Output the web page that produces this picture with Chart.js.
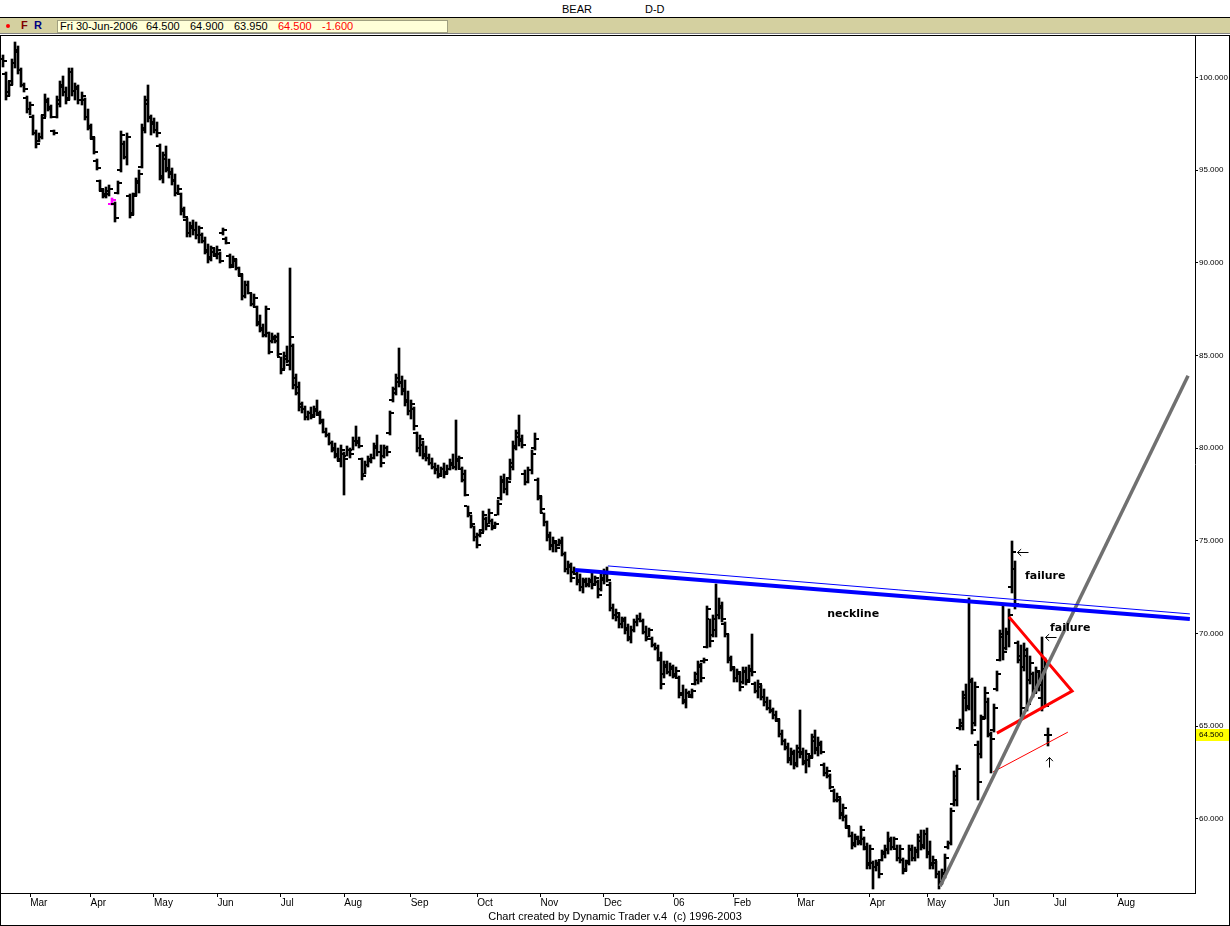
<!DOCTYPE html>
<html>
<head>
<meta charset="utf-8">
<script src="https://cdn.jsdelivr.net/npm/chart.js@4.4.1/dist/chart.umd.min.js"></script>
<style>
html, body { margin: 0; padding: 0; background: #fff; }
#page { position: relative; width: 1230px; height: 926px; overflow: hidden; font-family: "Liberation Sans", Arial, sans-serif; color: #000; }
#title { position: absolute; left: 0; top: 0; width: 1230px; height: 17px; border-bottom: 1px solid #000; font-size: 11px; }
#title span { position: absolute; top: 3px; }
#status { position: absolute; left: 0; top: 18px; width: 1230px; height: 15px; background: #d4d0a0; border-bottom: 1px solid #808080; }
#status .dot { position: absolute; left: 6px; top: 6px; width: 4px; height: 4px; border-radius: 2px; background: #ff0000; }
#status .f { position: absolute; left: 21px; top: 1px; font: bold 11px "Liberation Sans", Arial, sans-serif; color: #800000; }
#status .r { position: absolute; left: 34px; top: 1px; font: bold 11px "Liberation Sans", Arial, sans-serif; color: #000080; }
#quote { position: absolute; left: 57px; top: 2px; width: 389px; height: 11px; background: #ffffd8; border: 1px solid #a0a080; font-size: 11px; }
#quote span { position: absolute; top: -1px; }
#quote .red { color: #ff0000; }
#wrap { position: absolute; left: 0; top: 35px; width: 1230px; height: 891px; }
#footer { position: absolute; left: 0; top: 910px; width: 1230px; text-align: center; font-size: 11px; }
#frame { position: absolute; left: 0; top: 35px; width: 1228px; height: 889px; border: 1px solid #000; pointer-events: none; }
</style>
</head>
<body>
<div id="page">
  <div id="title"><span style="left:562px">BEAR</span><span style="left:645px">D-D</span></div>
  <div id="status">
    <div class="dot"></div><div class="f">F</div><div class="r">R</div>
    <div id="quote">
      <span style="left:2px">Fri 30-Jun-2006</span>
      <span style="left:88px">64.500</span>
      <span style="left:132px">64.900</span>
      <span style="left:176px">63.950</span>
      <span class="red" style="left:220px">64.500</span>
      <span class="red" style="left:264px">-1.600</span>
    </div>
  </div>
  <div id="wrap"><canvas id="c" width="1230" height="891"></canvas></div>
  <div id="footer">Chart created by Dynamic Trader v.4&nbsp; (c) 1996-2003</div>
  <div id="frame"></div>
</div>
<script>
// daily bars, BEAR, Feb 2005 - 30 Jun 2006 (index = trading day)
const opens = [
101.0,100.2,99.2,99.8,100.8,101.4,100.4,99.6,98.9,98.3,
97.9,97.0,96.6,96.8,98.0,98.7,98.3,97.1,97.9,98.6,
99.5,99.2,98.9,100.3,99.3,99.4,98.8,98.8,97.9,97.3,
96.7,95.5,94.4,93.9,93.7,93.7,93.2,93.2,93.8,95.0,
96.4,95.7,93.6,92.7,93.7,94.3,95.2,97.2,98.6,97.9,
97.5,97.2,96.3,94.6,95.6,95.1,94.9,94.5,93.8,93.7,
92.9,92.3,91.6,91.9,91.8,91.5,91.5,91.2,90.7,90.3,
90.6,90.4,90.5,91.6,91.3,90.4,89.9,90.1,89.7,89.3,
88.2,88.8,88.4,87.8,87.6,86.8,86.5,86.1,86.2,85.8,
85.9,86.0,84.9,84.3,84.8,84.5,85.5,83.8,83.3,82.4,
82.1,81.7,81.9,81.8,82.0,81.8,81.5,80.9,80.7,80.3,
80.0,79.7,79.3,79.7,79.6,79.9,79.9,80.4,80.4,79.4,
78.6,79.1,79.3,79.5,80.0,79.8,79.6,80.0,80.8,82.6,
83.0,83.6,83.6,83.2,82.6,82.0,82.1,80.8,80.0,80.2,
79.7,79.5,79.2,79.0,78.9,78.6,78.9,78.7,78.9,79.1,
79.0,79.4,78.9,78.6,76.9,76.4,75.8,75.2,75.3,75.6,
76.2,75.9,76.1,75.8,76.4,77.3,78.2,77.8,78.4,79.0,
80.0,80.6,80.5,78.6,78.2,78.8,80.0,78.3,77.3,76.5,
76.0,75.3,74.8,74.9,74.8,75.0,74.3,73.5,73.6,73.3,
73.2,72.9,72.5,72.8,72.7,72.8,72.7,72.8,72.4,72.9,
73.2,72.6,71.4,71.0,70.9,70.5,70.7,70.3,69.7,70.2,
70.6,70.8,70.7,70.1,69.8,69.7,69.4,69.2,68.7,67.8,
68.2,67.9,68.1,67.8,67.6,66.8,66.3,66.8,66.6,67.3,
67.5,68.2,68.5,69.3,70.8,69.9,70.2,71.0,71.4,70.5,
70.0,68.7,68.1,67.6,67.8,67.4,67.9,67.5,68.0,67.3,
66.9,67.1,66.6,66.3,66.0,65.9,65.6,65.3,64.6,64.2,
63.9,63.3,63.5,63.0,63.6,63.6,63.1,63.2,63.4,64.2,
63.8,64.0,62.9,62.5,62.3,61.5,61.0,61.0,60.3,60.1,
59.5,59.1,58.7,58.9,58.7,58.9,58.5,57.6,57.6,57.4,
57.5,57.8,58.1,58.3,58.8,58.5,58.4,57.9,57.8,57.3,
57.6,58.3,57.9,58.2,58.8,58.6,59.2,58.2,57.6,57.6,
57.0,56.6,57.0,58.5,58.7,60.8,61.0,64.9,65.0,66.5,
66.1,67.4,65.2,64.0,63.5,65.5,66.3,64.5,64.8,67.0,
68.6,69.8,69.2,70.0,72.5,73.5,69.5,68.8,68.2,68.8,
67.5,67.8,67.0,67.9,66.5,68.0,64.5];

const highs = [
101.2,100.3,99.8,101.0,101.9,101.7,100.5,99.7,99.0,98.7,
98.0,97.2,97.0,98.0,99.1,98.9,98.5,97.2,99.0,99.8,
100.1,99.5,100.5,100.5,99.7,99.6,99.2,98.9,98.3,97.5,
96.8,95.6,94.5,94.0,94.1,94.2,93.5,93.3,94.4,97.1,
96.6,97.0,93.7,93.8,94.6,95.0,97.5,99.0,99.6,98.0,
97.8,97.6,96.4,96.0,96.3,95.6,95.1,94.8,94.2,93.8,
93.0,92.4,92.2,92.3,92.2,92.0,91.6,91.4,91.0,90.9,
90.8,90.9,90.6,91.9,91.4,90.5,90.4,90.2,89.8,89.4,
89.0,89.0,88.4,88.3,87.7,87.2,86.7,87.7,86.3,86.2,
86.1,86.2,84.9,85.2,85.5,89.7,85.6,84.0,83.6,82.5,
82.3,82.0,82.2,82.3,82.6,82.0,81.6,81.1,80.8,80.4,
80.3,80.0,80.2,79.8,80.1,80.0,80.6,81.2,80.6,79.5,
79.3,79.6,79.7,80.3,80.7,80.2,80.2,80.1,82.0,83.3,
84.0,85.4,83.9,83.7,83.1,82.6,82.2,80.9,80.7,80.4,
80.1,79.7,79.5,79.2,79.1,79.0,79.2,79.1,79.4,79.7,
81.5,79.6,79.0,78.8,76.9,76.4,75.8,75.4,75.6,76.6,
76.3,76.7,76.2,76.0,77.2,78.5,78.6,78.4,79.4,80.4,
81.0,81.8,80.7,78.8,79.0,79.9,80.8,78.4,77.4,76.5,
76.1,75.5,75.2,75.0,75.1,75.2,74.4,73.9,73.8,73.6,
73.3,73.2,73.0,73.0,73.0,73.3,73.1,72.9,73.2,73.5,
73.6,72.8,71.6,71.3,71.1,70.9,70.9,70.5,70.4,70.8,
71.0,71.1,70.8,70.4,70.3,69.8,69.5,69.4,69.0,68.5,
68.5,68.4,68.3,68.2,67.7,67.2,67.0,66.9,67.0,67.9,
68.5,68.4,68.7,71.5,70.8,71.0,72.7,71.9,71.7,70.6,
70.0,68.8,68.2,68.1,67.9,68.2,68.2,68.3,70.0,67.4,
67.5,67.2,67.0,66.6,66.4,66.0,65.8,65.4,64.8,64.3,
64.1,63.8,63.7,64.0,65.9,63.8,63.7,63.4,64.6,64.8,
64.4,64.2,63.0,62.8,62.4,61.6,61.4,61.1,60.8,60.2,
59.6,59.3,59.2,59.1,59.6,59.0,58.7,58.6,57.7,57.8,
57.8,58.3,58.6,59.3,59.0,59.0,58.6,58.6,57.9,57.8,
58.6,58.6,58.5,59.2,59.4,59.4,59.5,58.8,58.0,57.7,
57.2,57.3,58.1,58.8,60.6,62.6,62.9,65.4,66.9,67.3,
71.9,67.6,67.4,64.2,65.6,67.1,66.5,64.7,66.2,68.0,
70.2,71.5,70.3,71.3,75.0,73.9,69.6,69.4,69.5,69.2,
68.8,67.9,68.2,68.0,69.8,68.7,64.9];

const lows = [
100.6,98.8,99.0,99.6,100.5,100.2,99.5,99.2,98.1,98.0,
96.9,96.2,96.5,96.7,97.9,98.2,97.8,96.9,97.8,98.4,
99.0,98.6,98.8,99.0,98.8,98.6,98.5,97.7,97.2,96.7,
95.9,95.0,93.9,93.5,93.5,93.6,93.1,92.2,93.7,94.9,
95.6,95.3,92.4,92.6,93.6,93.8,95.1,97.0,97.6,96.9,
97.0,96.8,94.5,94.3,94.9,94.6,94.2,93.6,93.7,92.6,
92.4,91.4,91.4,91.5,91.3,91.1,91.1,90.5,90.0,90.1,
90.4,90.2,90.0,91.5,91.0,89.7,89.8,89.6,89.3,88.0,
88.1,88.3,87.7,87.6,86.6,86.3,86.0,86.0,85.1,85.7,
85.7,85.0,84.0,84.3,84.6,84.2,83.2,82.9,82.0,81.9,
81.5,81.5,81.6,81.7,81.8,81.3,80.8,80.6,80.2,79.8,
79.5,79.3,79.0,77.5,79.6,79.5,79.9,80.1,80.0,78.3,
78.6,79.0,79.2,79.4,79.6,79.0,79.5,79.6,80.7,82.5,
82.9,83.3,82.9,82.3,81.8,81.6,81.0,79.8,79.6,79.4,
79.3,79.1,78.9,78.6,78.4,78.5,78.4,78.6,78.8,78.9,
78.8,78.9,78.2,77.4,76.3,75.7,75.0,74.6,75.2,75.5,
75.6,75.9,75.6,75.7,76.4,77.2,77.6,77.5,78.3,78.8,
79.9,80.1,80.0,78.0,78.1,78.6,79.9,77.2,76.5,75.8,
75.0,74.5,74.4,74.4,74.7,74.2,73.3,73.2,72.8,73.2,
72.6,72.3,72.2,72.5,72.5,72.4,72.6,71.9,72.3,72.7,
72.8,71.2,70.8,70.7,70.3,70.3,70.0,69.6,69.5,70.1,
70.4,70.6,70.0,69.6,69.8,69.3,69.1,68.5,67.0,67.6,
67.8,67.7,67.6,67.6,66.5,66.2,66.0,66.6,66.5,67.2,
67.3,67.4,68.4,69.2,69.3,69.8,69.8,70.8,70.6,69.8,
68.4,68.0,67.4,67.4,66.9,67.3,67.2,67.4,67.7,66.8,
66.5,66.4,66.1,65.9,65.7,65.4,65.3,64.4,64.0,63.7,
63.0,62.9,62.7,62.8,63.3,62.9,62.5,62.8,63.3,63.5,
63.4,63.5,62.3,62.2,61.6,60.9,60.9,60.0,59.9,59.5,
59.0,58.4,58.5,58.6,58.6,58.3,57.3,57.3,56.2,57.2,
56.8,57.7,57.9,58.1,58.3,58.4,57.7,57.6,57.0,57.2,
57.5,57.7,57.7,57.9,58.3,58.4,57.9,57.3,57.3,56.8,
56.2,56.5,56.8,58.4,58.6,60.7,60.7,64.8,64.8,65.8,
65.9,64.6,65.0,61.0,63.3,65.4,64.4,62.5,64.7,66.9,
68.5,68.6,69.1,69.3,72.2,71.3,68.4,65.5,68.0,65.8,
67.3,66.6,66.8,66.9,65.8,66.1,63.95];

const closes = [
100.9,99.0,99.6,100.8,101.5,100.4,99.6,99.4,98.3,98.5,
97.0,96.4,96.8,97.8,98.8,98.4,97.9,97.0,98.8,99.6,
99.2,98.8,100.3,99.3,99.5,98.8,99.0,97.9,97.4,96.8,
96.0,95.1,94.0,93.6,93.9,94.0,93.4,92.4,94.3,96.9,
95.7,96.8,92.6,93.6,94.4,94.8,97.3,98.8,97.8,97.6,
97.2,97.0,94.7,95.8,95.0,94.8,94.4,93.8,94.0,92.8,
92.5,91.6,92.0,91.8,91.5,91.9,91.2,90.6,90.2,90.8,
90.5,90.7,90.1,91.8,91.1,89.8,90.2,89.7,89.4,88.2,
88.8,88.4,87.8,88.1,86.7,86.4,86.1,87.5,85.2,86.0,
85.8,85.1,84.2,85.0,84.7,86.0,83.4,83.0,82.2,82.1,
81.7,81.9,81.7,82.1,81.9,81.4,80.9,80.7,80.3,79.9,
79.6,79.4,79.9,79.4,79.9,79.7,80.4,80.3,80.1,78.5,
79.1,79.4,79.5,80.1,79.8,79.2,80.0,79.8,81.9,83.2,
83.8,83.5,83.1,82.5,82.0,82.4,81.2,80.0,80.5,79.6,
79.5,79.2,79.0,78.8,78.5,78.9,78.6,78.9,79.2,79.0,
79.3,79.5,78.3,77.5,76.5,75.9,75.2,74.8,75.4,76.4,
75.8,76.5,75.7,75.9,77.0,78.3,77.8,78.2,79.2,80.1,
80.8,80.4,80.2,78.2,78.8,79.7,80.5,77.4,76.7,76.0,
75.2,74.7,75.0,74.6,74.9,74.3,73.5,73.7,73.0,73.4,
72.8,72.5,72.9,72.6,72.9,72.6,73.0,72.1,73.0,73.3,
72.9,71.4,71.0,71.1,70.5,70.8,70.2,69.8,70.2,70.6,
70.8,70.7,70.1,69.7,70.2,69.4,69.2,68.6,67.3,68.3,
67.9,68.2,67.7,68.0,66.7,66.4,66.8,66.7,66.9,67.8,
68.3,67.6,68.6,71.3,69.6,70.8,71.0,71.5,70.8,70.0,
68.6,68.2,67.6,67.9,67.1,68.0,67.4,68.1,67.9,66.9,
67.3,66.6,66.3,66.0,65.8,65.6,65.4,64.6,64.2,63.8,
63.2,63.6,62.9,63.8,63.5,63.0,63.5,63.3,64.4,63.7,
64.1,63.6,62.5,62.6,61.7,61.0,61.2,60.2,60.6,59.6,
59.1,58.6,59.0,58.8,59.4,58.4,57.5,58.4,57.4,57.6,
57.0,58.2,58.4,58.9,58.5,58.9,57.9,58.4,57.2,57.7,
58.4,57.9,58.3,59.0,58.5,59.2,58.1,57.5,57.8,57.0,
56.5,57.1,57.9,58.7,60.4,62.3,62.7,65.2,66.7,66.0,
67.5,64.8,67.1,62.0,65.4,66.8,64.6,64.3,66.0,67.8,
70.0,69.0,70.1,71.0,74.4,71.6,68.6,66.0,69.1,66.2,
68.4,66.8,68.0,67.2,68.1,66.1,64.5];

const magentaBars = [36];

// month labels on the time axis (bar index where each month begins)
const monthLabels = ['Mar','Apr','May','Jun','Jul','Aug','Sep','Oct','Nov','Dec','06','Feb','Mar','Apr','May','Jun','Jul','Aug'];
const monthIdx = [9,29,50,71,92,113,135,157,178,199,222,242,263,287,306,328,348,369];
const priceTicks = [60,65,70,75,80,85,90,95,100];

// drawn studies (bar index, price)
const necklineThick = [{x:189.4, y:73.43}, {x:393.0, y:70.79}];
const necklineThin = [{x:200.3, y:73.65}, {x:393.0, y:71.06}];
const trendLine = [{x:310.3, y:56.37}, {x:392.4, y:83.91}];
const triangle = [{x:329.1, y:64.63}, {x:354.0, y:66.90}, {x:333.1, y:70.90}];
const lowerRay = [{x:327.8, y:62.53}, {x:352.6, y:64.68}];

const noteText = ['neckline', 'failure', 'failure'];
const noteAt = [{x:272.9, y:71.06}, {x:338.4, y:73.11}, {x:346.7, y:70.30}];
const arrows = [
  {from:{x:339.4, y:74.41}, to:{x:335.8, y:74.41}},
  {from:{x:348.7, y:69.82}, to:{x:345.1, y:69.82}},
  {from:{x:346.3, y:62.79}, to:{x:346.3, y:63.33}}
];

Chart.defaults.font.family = '"Liberation Sans", Arial, sans-serif';
Chart.defaults.color = '#000';

const barColor = i => magentaBars.includes(i) ? '#ff00ff' : '#000000';

// snap the high-low bars to whole pixels and add open/close ticks
const ohlcTicks = {
  id: 'ohlcTicks',
  beforeDatasetDraw(chart, args) {
    if (args.index !== 0) return;
    args.meta.data.forEach(el => {
      el.x = Math.round(el.x);
      el.y = Math.round(el.y);
      el.base = Math.round(el.base);
    });
  },
  afterDatasetDraw(chart, args) {
    if (args.index !== 0) return;
    const { ctx, chartArea: a, scales: { x, y } } = chart;
    ctx.save();
    ctx.beginPath();
    ctx.rect(a.left, a.top, a.right - a.left, a.bottom - a.top);
    ctx.clip();
    closes.forEach((c, i) => {
      const px = Math.round(x.getPixelForValue(i));
      ctx.fillStyle = barColor(i);
      ctx.fillRect(px - 4, Math.round(y.getPixelForValue(opens[i])) - 1, 3, 2);
      ctx.fillRect(px + 1, Math.round(y.getPixelForValue(c)) - 1, 3, 2);
    });
    ctx.restore();
  }
};

const notes = {
  id: 'notes',
  afterDraw(chart) {
    const { ctx, chartArea: a, scales: { x, y } } = chart;
    ctx.save();
    ctx.fillStyle = '#000';
    ctx.font = 'bold 11px "DejaVu Sans", Verdana, sans-serif';
    ctx.textAlign = 'left';
    ctx.textBaseline = 'middle';
    noteText.forEach((t, k) => {
      ctx.fillText(t, x.getPixelForValue(noteAt[k].x), y.getPixelForValue(noteAt[k].y));
    });
    ctx.strokeStyle = '#000';
    ctx.lineWidth = 1;
    arrows.forEach(ar => {
      const x0 = Math.round(x.getPixelForValue(ar.from.x)) + 0.5, y0 = Math.round(y.getPixelForValue(ar.from.y)) + 0.5;
      const x1 = Math.round(x.getPixelForValue(ar.to.x)) + 0.5, y1 = Math.round(y.getPixelForValue(ar.to.y)) + 0.5;
      const ang = Math.atan2(y1 - y0, x1 - x0);
      ctx.beginPath();
      ctx.moveTo(x0, y0); ctx.lineTo(x1, y1);
      ctx.moveTo(x1 - 5 * Math.cos(ang - 0.75), y1 - 5 * Math.sin(ang - 0.75));
      ctx.lineTo(x1, y1);
      ctx.lineTo(x1 - 5 * Math.cos(ang + 0.75), y1 - 5 * Math.sin(ang + 0.75));
      ctx.stroke();
    });
    // last price marker on the price axis
    const last = closes[closes.length - 1];
    const py = Math.round(y.getPixelForValue(last));
    ctx.fillStyle = '#ffff00';
    ctx.fillRect(a.right + 1, py - 6, 33, 12);
    ctx.fillStyle = '#000';
    ctx.font = '8px "Liberation Sans", Arial, sans-serif';
    ctx.fillText(last.toFixed(3), a.right + 4, py);
    ctx.restore();
  }
};

const lineSet = (data, color, width) => ({
  type: 'line', data, borderColor: color, borderWidth: width,
  pointRadius: 0, tension: 0, fill: false, order: 1,
  borderCapStyle: 'butt', borderJoinStyle: 'miter'
});

new Chart(document.getElementById('c'), {
  type: 'bar',
  data: {
    datasets: [
      {
        type: 'bar',
        data: closes.map((c, i) => ({ x: i, y: [lows[i], highs[i]] })),
        backgroundColor: closes.map((c, i) => barColor(i)),
        borderWidth: 0,
        barThickness: 2,
        order: 3
      },
      lineSet(necklineThick, '#0000ff', 4),
      lineSet(necklineThin, '#0000ff', 1),
      lineSet(trendLine, '#707070', 3.5),
      lineSet(triangle, '#ff0000', 3),
      lineSet(lowerRay, '#ff0000', 1)
    ]
  },
  options: {
    responsive: false,
    devicePixelRatio: 1,
    animation: false,
    events: [],
    layout: { padding: 0 },
    plugins: { legend: { display: false }, tooltip: { enabled: false } },
    scales: {
      x: {
        type: 'linear',
        offset: false,
        min: -0.993,
        max: 394.7,
        afterBuildTicks: s => { s.ticks = monthIdx.map(v => ({ value: v })); },
        afterFit: s => { s.height = 33; s.paddingLeft = 0; s.paddingRight = 0; },
        grid: { drawOnChartArea: false, offset: false, tickLength: 4, color: '#000' },
        border: { display: true, color: '#000', width: 1 },
        ticks: {
          autoSkip: false, maxRotation: 0, align: 'start', padding: 0,
          font: { size: 10 },
          callback: (v, k) => monthLabels[k]
        }
      },
      y: {
        position: 'right',
        min: 56.0,
        max: 102.3,
        afterBuildTicks: s => { s.ticks = priceTicks.map(v => ({ value: v })); },
        afterFit: s => { s.width = 35; s.paddingTop = 0; s.paddingBottom = 0; },
        grid: { drawOnChartArea: false, tickLength: 3, color: '#000' },
        border: { display: true, color: '#000', width: 1 },
        ticks: {
          padding: 1,
          font: { size: 8 },
          callback: v => Number(v).toFixed(3)
        }
      }
    }
  },
  plugins: [ohlcTicks, notes]
});
</script>
</body>
</html>
